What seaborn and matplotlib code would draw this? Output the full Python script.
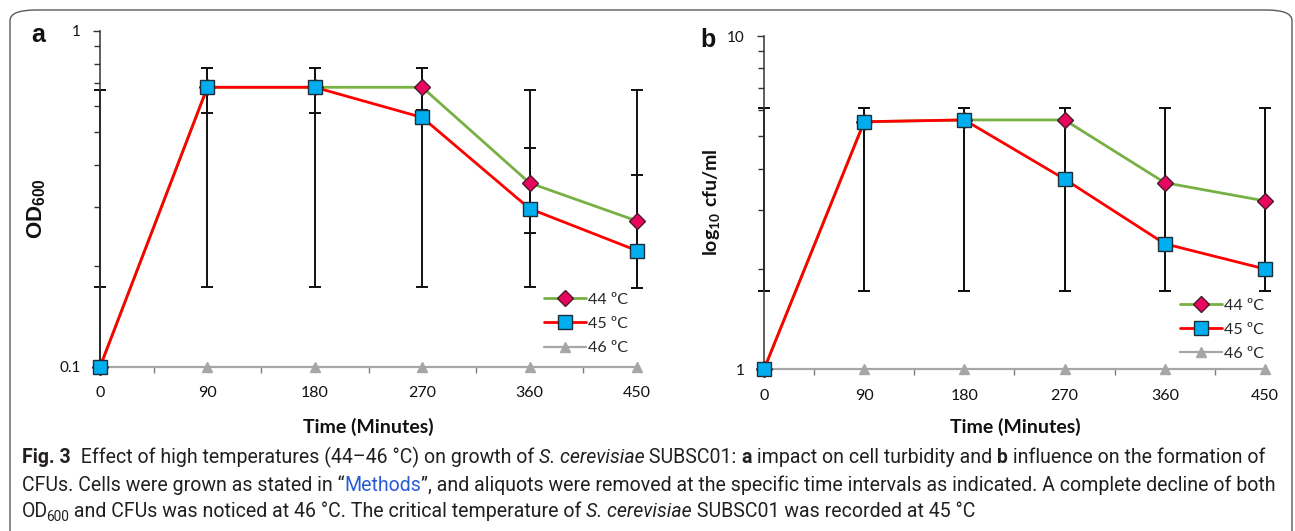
import matplotlib
matplotlib.use("Agg")
import matplotlib.pyplot as plt
import seaborn as sns
from matplotlib import font_manager
from matplotlib.patches import FancyBboxPatch
from matplotlib.transforms import IdentityTransform
from matplotlib.ticker import FixedLocator, NullFormatter

# ---- data ----
time = [0, 90, 180, 270, 360, 450]
time_labels = ["0", "90", "180", "270", "360", "450"]
series = ["44 ºC", "45 ºC", "46 ºC"]

od_44 = [0.1, 0.68, 0.68, 0.68, 0.353, 0.272]
od_45 = [0.1, 0.68, 0.68, 0.553, 0.296, 0.222]
od_46 = [0.1, 0.1, 0.1, 0.1, 0.1, 0.1]
od_44_lo = [0.173, 0.571, 0.571, 0.58, 0.251, 0.172]
od_44_hi = [0.668, 0.774, 0.774, 0.774, 0.449, 0.373]
od_45_lo = [0.1, 0.173, 0.173, 0.173, 0.173, 0.172]
od_45_hi = [0.668, 0.774, 0.774, 0.774, 0.668, 0.668]

cfu_44 = [1, 5.53, 5.6, 5.6, 3.63, 3.2]
cfu_45 = [1, 5.53, 5.6, 3.72, 2.38, 2.0]
cfu_46 = [1, 1, 1, 1, 1, 1]
cfu_44_lo = [1.72, 1.72, 1.72, 1.72, 1.72, 1.72]
cfu_44_hi = [6.09, 6.09, 6.09, 6.09, 6.09, 6.09]
cfu_45_lo = [1.72, 1.72, 1.72, 1.72, 1.72, 1.72]
cfu_45_hi = [6.09, 6.09, 6.09, 6.09, 6.09, 6.09]


def pick(names):
    for n in names:
        try:
            font_manager.findfont(font_manager.FontProperties(family=n), fallback_to_default=False)
            return n
        except ValueError:
            pass
    return "DejaVu Sans"


sns.set_style("white")
plt.rcParams["font.family"] = ["Lato", "DejaVu Sans"]
plt.rcParams["mathtext.fontset"] = "custom"
plt.rcParams["mathtext.bf"] = "Liberation Sans:bold"
plt.rcParams["mathtext.sf"] = "Lato:bold"
cap_font = pick(["Liberation Sans Narrow", "Roboto", "Open Sans"])

W, H = 1295, 531
fig = plt.figure(figsize=(W / 100, H / 100), dpi=100)

# rounded frame around the figure
fig.patches.append(FancyBboxPatch((10 / W, -0.02), 1282 / W, 1 - 10 / H + 0.02,
                                  boxstyle="round,pad=0,rounding_size=0.02",
                                  transform=fig.transFigure, fill=False,
                                  edgecolor="#5a5a5a", linewidth=1.0))

ax_a = fig.add_axes([100 / W, 1 - 367 / H, 537 / W, 336 / H])
ax_b = fig.add_axes([764 / W, 1 - 369.3 / H, 501 / W, 333.3 / H])

styles = {
    "44 ºC": dict(color="#77b043", marker="D", mfc="#e8065e", mec="#4a1a2a", ms=8.5, lw=2.0),
    "45 ºC": dict(color="#ff0000", marker="s", mfc="#00aeef", mec="#1b2f3a", ms=10, lw=2.0),
    "46 ºC": dict(color="#a6a6a6", marker="^", mfc="#a6a6a6", mec="#a6a6a6", ms=7, lw=1.6),
}


def draw_panel(ax, vals, bars, ylim, ylabels):
    for (lo, hi) in bars:
        mid = [(a + b) / 2 for a, b in zip(lo, hi)]
        half = [(b - a) / 2 for a, b in zip(lo, hi)]
        ax.errorbar(time, mid, yerr=half, fmt="none", ecolor="#111111",
                    elinewidth=1.4, capsize=4, capthick=1.4, zorder=2, clip_on=False)
    for name, y in zip(series, vals):
        st = styles[name]
        sns.lineplot(x=time, y=y, ax=ax, label=name, color=st["color"], lw=st["lw"],
                     marker=st["marker"], markerfacecolor=st["mfc"], markeredgecolor=st["mec"],
                     markeredgewidth=1.0, markersize=st["ms"], clip_on=False,
                     zorder=3 if name != "46 ºC" else 2.5)
    ax.set_yscale("log")
    ax.set_ylim(*ylim)
    ax.set_xlim(0, 450)
    ax.set_xticks(time)
    ax.set_xticklabels(time_labels)
    ax.set_xticks([45, 135, 225, 315, 405], minor=True)
    ax.tick_params(axis="x", which="major", length=0, pad=14, labelsize=11.5, labelcolor="#111111")
    ax.tick_params(axis="x", which="minor", length=4, width=1, direction="out", color="#7f7f7f", bottom=True)
    ax.yaxis.set_major_locator(FixedLocator(list(ylim)))
    ax.set_yticklabels(ylabels)
    ax.yaxis.set_minor_locator(FixedLocator([ylim[0] * k for k in range(2, 10)]))
    ax.yaxis.set_minor_formatter(NullFormatter())
    ax.tick_params(axis="y", which="major", length=5, width=1, direction="out", left=True,
                   pad=9, labelsize=11, color="#333333", labelcolor="#111111")
    ax.tick_params(axis="y", which="minor", length=4, width=1, direction="out", left=True, color="#333333")
    for s in ["top", "right"]:
        ax.spines[s].set_visible(False)
    ax.spines["left"].set_color("#333333")
    ax.spines["left"].set_linewidth(1.1)
    ax.spines["bottom"].set_color("#a6a6a6")
    ax.spines["bottom"].set_linewidth(1.2)
    ax.set_xlabel("")
    ax.set_ylabel("")
    ax.set_facecolor("none")


draw_panel(ax_a, [od_44, od_45, od_46], [(od_44_lo, od_44_hi), (od_45_lo, od_45_hi)],
           (0.1, 1), ["0.1", "1"])
draw_panel(ax_b, [cfu_44, cfu_45, cfu_46], [(cfu_44_lo, cfu_44_hi), (cfu_45_lo, cfu_45_hi)],
           (1, 10), ["1", "10"])

for ax, anchor in [(ax_a, (0.815, 0.24)), (ax_b, (0.818, 0.232))]:
    ax.legend(loc="upper left", bbox_to_anchor=anchor, frameon=False, fontsize=11.5,
              handlelength=2.6, handletextpad=0.15, labelspacing=0.62, borderaxespad=0)

# axis titles and panel letters (pixel positions)
px = IdentityTransform()
fig.text(368, H - 427, "Time (Minutes)", transform=px, ha="center", va="center",
         fontsize=14, weight="bold", color="#111111")
fig.text(1015, H - 427, "Time (Minutes)", transform=px, ha="center", va="center",
         fontsize=14, weight="bold", color="#111111")
fig.text(37, H - 209, r"$\mathbf{OD_{600}}$", transform=px, ha="center", va="center",
         rotation=90, fontsize=16, color="#111111")
fig.text(712, H - 202, r"$\mathsf{log_{10}\ cfu/ml}$", transform=px, ha="center", va="center",
         rotation=90, fontsize=14, color="#111111")
fig.text(38, H - 35, "a", transform=px, ha="center", va="center", fontsize=18,
         weight="bold", family="Liberation Sans", color="#111111")
fig.text(708, H - 40, "b", transform=px, ha="center", va="center", fontsize=18,
         weight="bold", family="Liberation Sans", color="#111111")

# ---- caption, drawn run by run ----
cap_color = "#231f20"
link = "#2a5bd7"
lines = [
    [("Fig. 3", "b"), ("  Effect of high temperatures (44–46 °C) on growth of ", "n"),
     ("S. cerevisiae", "i"), (" SUBSC01: ", "n"), ("a", "b"), (" impact on cell turbidity and ", "n"),
     ("b", "b"), (" influence on the formation of", "n")],
    [("CFUs. Cells were grown as stated in “", "n"), ("Methods", "l"),
     ("”, and aliquots were removed at the specific time intervals as indicated. A complete decline of both", "n")],
    [("OD", "n"), ("600", "s"), (" and CFUs was noticed at 46 °C. The critical temperature of ", "n"),
     ("S. cerevisiae", "i"), (" SUBSC01 was recorded at 45 °C", "n")],
]
renderer = fig.canvas.get_renderer()


def run_kw(kind, size):
    kw = dict(family=[cap_font, "DejaVu Sans"], fontsize=size, color=cap_color)
    if kind == "b":
        kw["weight"] = "bold"
    elif kind == "i":
        kw["style"] = "italic"
    elif kind == "l":
        kw["color"] = link
    elif kind == "s":
        kw["fontsize"] = size * 0.7
    return kw


def run_width(txt, kw):
    t = fig.text(0, 0, "|" + txt + "|", transform=px, **kw)
    w1 = t.get_window_extent(renderer).width
    t.set_text("||")
    w0 = t.get_window_extent(renderer).width
    t.remove()
    return w1 - w0


base = 12
total = sum(run_width(t, run_kw(k, base)) for t, k in lines[1])
size = base * (1270 - 22) / total

for line, yb in zip(lines, [463, 491, 517]):
    x = 22
    for txt, kind in line:
        kw = run_kw(kind, size)
        dx, dy = (-2, -4) if kind == "s" else (0, 0)
        fig.text(x + dx, H - yb + dy, txt, transform=px, ha="left", va="baseline", **kw)
        x += run_width(txt, kw) + dx

fig.savefig("out.png", dpi=100)
